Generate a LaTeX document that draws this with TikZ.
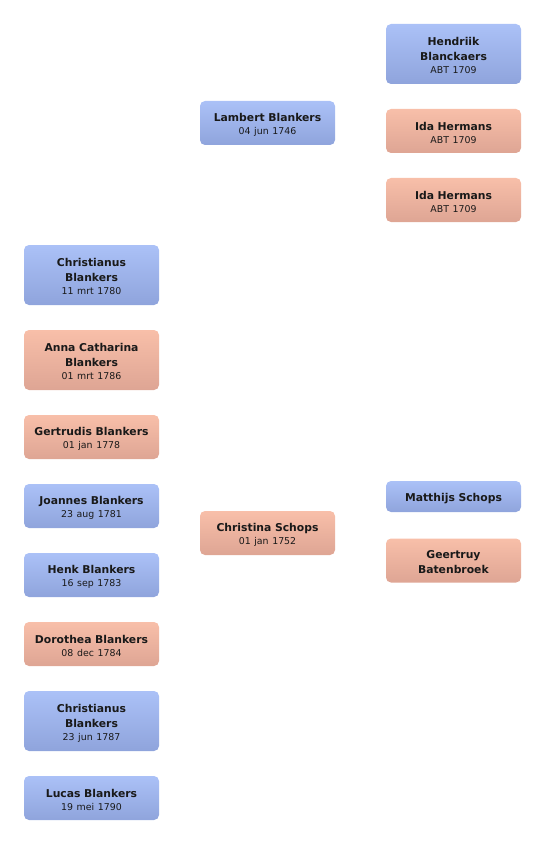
\documentclass[tikz,border=0pt]{standalone}
\usepackage{fontspec}
\setmainfont{DejaVu Sans}
\definecolor{manTop}{HTML}{ABC1F7}
\definecolor{manBot}{HTML}{8FA4DC}
\definecolor{womanTop}{HTML}{F8BFA9}
\definecolor{womanBot}{HTML}{DEA594}
\tikzset{
    person node/.style={rounded corners=5pt, minimum width=135pt, text width=125pt, align=center, inner sep=0pt, text height=12pt, text=black!90, font=\fontsize{10.8}{15}\selectfont},
    man node/.style={person node, top color=manTop, bottom color=manBot},
    woman node/.style={person node, top color=womanTop, bottom color=womanBot},
    one line/.style={minimum height=31pt},
    two line/.style={minimum height=44pt},
    three line/.style={minimum height=60pt},
}
\newcommand{\pname}[1]{\textbf{#1}}
\newcommand{\pdate}[1]{\\[-2pt]{\fontsize{9.4}{14}\selectfont #1}}

\begin{document}
\begin{tikzpicture}[x=1pt, y=-1pt]
    \useasboundingbox (0,0) rectangle (546,845);
    % grandparents
    \node[man node, three line] (hendriik) at (453.5,54) {\pname{Hendriik\\Blanckaers}\pdate{ABT 1709}};
    \node[woman node, two line] (ida1) at (453.5,131) {\pname{Ida Hermans}\pdate{ABT 1709}};
    \node[woman node, two line] (ida2) at (453.5,200) {\pname{Ida Hermans}\pdate{ABT 1709}};
    \node[man node, one line] (matthijs) at (453.5,496.5) {\pname{Matthijs Schops}};
    \node[woman node, two line] (geertruy) at (453.5,560.5) {\pname{Geertruy\\Batenbroek}};
    % parents
    \node[man node, two line] (lambert) at (267.5,123) {\pname{Lambert Blankers}\pdate{04 jun 1746}};
    \node[woman node, two line] (christina) at (267.5,533) {\pname{Christina Schops}\pdate{01 jan 1752}};
    % children
    \node[man node, three line] (christianus1) at (91.5,275) {\pname{Christianus\\Blankers}\pdate{11 mrt 1780}};
    \node[woman node, three line] (anna) at (91.5,360) {\pname{Anna Catharina\\Blankers}\pdate{01 mrt 1786}};
    \node[woman node, two line] (gertrudis) at (91.5,437) {\pname{Gertrudis Blankers}\pdate{01 jan 1778}};
    \node[man node, two line] (joannes) at (91.5,506) {\pname{Joannes Blankers}\pdate{23 aug 1781}};
    \node[man node, two line] (henk) at (91.5,575) {\pname{Henk Blankers}\pdate{16 sep 1783}};
    \node[woman node, two line] (dorothea) at (91.5,644) {\pname{Dorothea Blankers}\pdate{08 dec 1784}};
    \node[man node, three line] (christianus2) at (91.5,721) {\pname{Christianus\\Blankers}\pdate{23 jun 1787}};
    \node[man node, two line] (lucas) at (91.5,798) {\pname{Lucas Blankers}\pdate{19 mei 1790}};
\end{tikzpicture}
\end{document}
